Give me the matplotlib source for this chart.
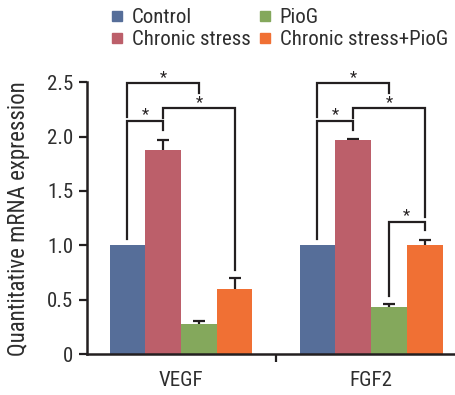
import matplotlib
matplotlib.use("Agg")
import matplotlib.pyplot as plt
from matplotlib.lines import Line2D
import numpy as np

plt.rcParams['font.family'] = ['Roboto Condensed', 'Archivo Narrow', 'DejaVu Sans']

genes = ['VEGF', 'FGF2']
groups = ['Control', 'Chronic stress', 'PioG', 'Chronic stress+PioG']
colors = ['#566E99', '#BC5F6A', '#84A85C', '#F07034']
vegf_vals = [1.0, 1.875, 0.28, 0.60]
vegf_err = [0.0, 0.095, 0.02, 0.10]
fgf2_vals = [1.0, 1.965, 0.43, 1.0]
fgf2_err = [0.0, 0.015, 0.03, 0.05]
values = [vegf_vals, fgf2_vals]
errors = [vegf_err, fgf2_err]

# significance brackets: (gene, bar_i, bar_j, height, left leg end, right leg end)
brackets = [
    (0, 0, 2, 2.49, 2.18, 2.40),
    (0, 0, 1, 2.145, 1.06, 2.06),
    (0, 1, 3, 2.26, 2.17, 0.77),
    (1, 0, 2, 2.49, 2.18, 2.40),
    (1, 0, 1, 2.145, 1.06, 2.06),
    (1, 1, 3, 2.26, 2.17, 1.26),
    (1, 2, 3, 1.215, 0.53, 1.14),
]

fig = plt.figure(figsize=(4.56, 3.95), dpi=100)
ax = fig.add_axes([87/456, 1-354/395, (456-87)/456, (354-82.3)/395])

width = 0.188
offsets = (np.arange(4) - 1.5) * width
x = np.arange(len(genes))
ink = '#231F20'
txtc = '#2E2E2E'

for k in range(4):
    vals = [values[g][k] for g in range(len(genes))]
    errs = [errors[g][k] for g in range(len(genes))]
    ax.bar(x + offsets[k], vals, width, color=colors[k], label=groups[k], zorder=2)
    for g in range(len(genes)):
        if errs[g] > 0:
            ax.errorbar(x[g] + offsets[k], vals[g], yerr=errs[g], fmt='none',
                        ecolor=ink, elinewidth=1.6, capsize=4.5, capthick=1.6, zorder=1)

for g, i, j, h, l0, r0 in brackets:
    xi = x[g] + offsets[i]
    xj = x[g] + offsets[j]
    ax.plot([xi, xi, xj, xj], [l0, h, h, r0], color=ink, lw=1.6, clip_on=False,
            solid_joinstyle='miter', zorder=4)
    ax.text((xi + xj) / 2, h - 0.012, '*', ha='center', va='bottom', fontsize=12,
            color=ink, clip_on=False)

ax.set_xlim(-0.495, 1.447)
ax.set_ylim(0, 2.5)
ax.set_yticks([0, 0.5, 1.0, 1.5, 2.0, 2.5])
ax.set_yticklabels(['0', '0.5', '1.0', '1.5', '2.0', '2.5'])
ax.set_xticks(x)
ax.set_xticklabels(genes)
ax.set_xticks([0.5], minor=True)
ax.tick_params(axis='x', which='major', length=0, pad=12, labelsize=15, colors=txtc)
ax.tick_params(axis='x', which='minor', length=6, width=1.6, color=ink, direction='out')
ax.tick_params(axis='y', length=6, width=1.6, color=ink, pad=4, labelsize=15,
               labelcolor=txtc)
for s in ['top', 'right']:
    ax.spines[s].set_visible(False)
for s in ['left', 'bottom']:
    ax.spines[s].set_linewidth(1.8)
    ax.spines[s].set_color(ink)
ax.spines['bottom'].set_zorder(5)

ax.set_ylabel('Quantitative mRNA expression', fontsize=16.5, color=txtc)
ax.yaxis.set_label_coords(-0.155, 0.5)

handles = [Line2D([], [], marker='s', linestyle='none', markersize=7,
                  markerfacecolor=c, markeredgecolor=c) for c in colors]
fig.legend(handles, groups, ncol=2, loc='upper left', bbox_to_anchor=(0.225, 1.0),
           frameon=False, fontsize=15, handlelength=0.6, handletextpad=0.4,
           columnspacing=0.4, labelspacing=0.12, borderaxespad=0,
           labelcolor=txtc)

fig.savefig('out.png', dpi=100)
